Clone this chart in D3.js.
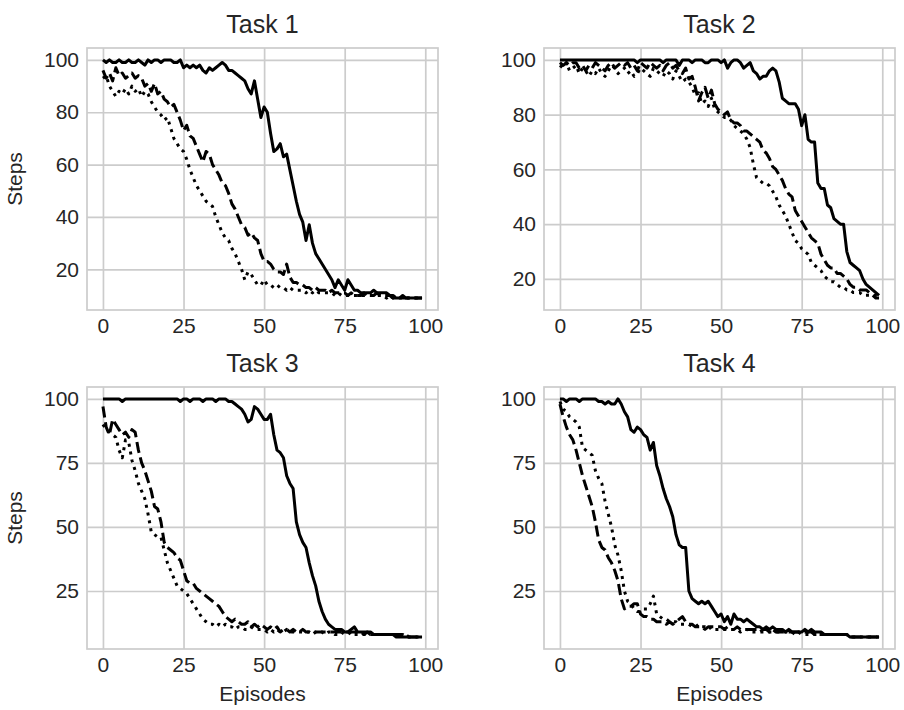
<!DOCTYPE html>
<html>
<head>
<meta charset="utf-8">
<script src="https://cdn.jsdelivr.net/npm/d3@7"></script>
<style>
  body { margin: 0; background: #fff; }
  svg text { font-family: "Liberation Sans", Arial, sans-serif; fill: #262626; }
</style>
</head>
<body>
<div id="graph"></div>
<script>
var episodes = d3.range(100);
var titles = ["Task 1", "Task 2", "Task 3", "Task 4"];
var xTicks = [0, 25, 50, 75, 100];
var yTicksTop = [20, 40, 60, 80, 100];
var yTicksBottom = [25, 50, 75, 100];

// Task 1
var task1Solid = [100,99,100,99,99,100,99,99,100,99, 99,100,99,98,100,99,100,100,99,100,
  100,100,99,99,100,97,98,97,98,97, 98,96,95,97,96,97,98,99,98,96,
  96,95,94,93,92,89,87,92,85,78, 82,80,72,65,66,68,63,64,58,52,
  46,41,38,31,37,30,26,24,22,20, 18,16,13,16,14,12,16,14,12,12,
  11,11,11,11,12,11,11,11,11,10, 9,9,9,9,9,9,9,9,9,9];
var task1Dashed = [96,93,95,92,97,94,95,93,94,95, 93,94,93,90,91,88,91,87,88,85,
  84,82,83,80,77,73,75,71,70,67, 64,61,65,64,60,58,56,53,52,49,
  45,43,40,37,36,33,34,32,31,26, 23,23,22,20,19,19,18,22,17,15,
  15,14,14,13,13,12,13,12,12,12, 11,12,11,11,11,11,10,11,10,10,
  10,11,10,10,10,11,10,10,10,10, 10,9,9,10,9,9,9,9,9,9];
var task1Dotted = [93,94,90,88,86,88,87,89,87,90, 88,89,86,88,87,84,82,80,79,77,
  78,74,70,68,66,65,62,58,55,52, 50,48,46,45,44,40,37,34,32,31,
  28,26,23,20,16,19,18,16,14,14, 16,14,14,13,14,13,13,12,13,12,
  12,12,12,11,12,11,12,11,11,11, 11,11,10,11,10,10,10,10,10,10,
  10,10,10,10,10,10,10,10,9,10, 9,9,9,9,9,9,9,9,9,9];

// Task 2
var task2Solid = [100,100,100,100,100,100,100,100,100,100, 100,100,100,100,100,100,100,100,100,100,
  100,100,100,100,99,100,100,100,100,100, 100,100,99,100,100,100,100,98,100,100,
  100,99,100,100,100,99,99,100,100,100, 99,100,97,99,100,100,99,97,98,99,
  96,95,93,94,94,96,97,96,92,86, 85,84,84,84,82,76,80,71,70,70,
  55,53,53,47,46,42,41,40,40,30, 26,25,24,23,20,18,17,16,15,14];
var task2Dashed = [99,98,99,98,99,99,97,98,96,98, 97,99,98,97,96,98,99,97,98,99,
  98,99,97,98,96,99,98,97,99,98, 97,98,96,98,99,97,98,96,95,97,
  93,94,90,85,88,90,86,89,84,82, 81,80,81,78,77,77,76,74,74,73,
  72,71,70,67,66,64,61,60,58,56, 53,51,50,45,43,41,39,37,35,34,
  33,29,27,25,24,24,22,22,21,20, 18,17,17,16,16,16,15,14,13,13];
var task2Dotted = [98,97,99,96,97,98,95,97,96,94, 96,95,97,95,94,96,98,97,95,96,
  97,95,96,94,95,97,96,95,94,97, 96,95,94,96,95,93,96,94,92,93,
  92,90,87,88,84,85,83,86,82,81, 80,79,79,78,76,75,74,73,71,68,
  62,57,56,55,55,54,52,50,47,45, 43,40,37,34,33,31,30,29,26,25,
  24,23,21,20,19,19,18,17,17,16, 16,15,15,15,14,14,14,14,14,14];

// Task 3
var task3Solid = [100,100,100,100,100,100,99,100,100,100, 100,100,100,100,100,100,100,100,100,100,
  100,100,100,100,99,100,100,99,100,100, 100,99,100,100,100,99,100,100,100,99,
  99,98,97,96,94,91,92,97,96,94, 92,92,94,86,80,79,77,70,67,65,
  52,47,44,42,36,31,27,21,17,14, 12,11,10,10,10,9,9,10,11,9,
  9,9,9,9,8,8,8,8,8,8, 8,7,7,7,7,7,7,7,7,7];
var task3Dashed = [97,89,86,92,90,88,86,87,85,88, 87,80,75,72,68,64,58,57,52,44,
  42,41,40,38,37,33,29,28,28,26, 25,24,23,22,21,20,19,17,15,14,
  13,14,13,12,12,13,11,12,11,12, 11,10,11,10,11,9,10,10,9,10,
  9,9,10,9,9,9,9,9,9,9, 9,9,9,9,9,9,9,9,9,9,
  9,8,9,8,8,8,8,8,8,8, 8,8,8,8,8,7,7,7,7,7];
var task3Dotted = [90,88,87,86,85,80,77,84,83,76, 72,67,64,61,55,48,47,46,46,41,
  36,33,30,27,26,25,24,22,20,18, 16,14,13,12,12,11,12,11,12,11,
  11,10,11,11,10,10,11,10,10,10, 10,9,10,9,10,9,9,10,9,9,
  9,9,9,9,9,8,9,9,9,8, 9,9,8,8,9,8,8,9,8,8,
  8,8,8,8,8,8,8,8,8,8, 8,8,7,8,7,7,7,7,7,7];

// Task 4
var task4Solid = [100,100,99,100,100,100,99,100,100,100, 100,100,99,99,98,99,98,98,100,98,
  95,93,88,87,89,88,86,85,80,83, 74,70,65,61,58,54,47,43,42,42,
  25,22,21,20,21,20,21,19,17,15, 16,13,15,12,16,14,14,13,14,13,
  12,11,11,10,11,10,11,10,10,10, 9,10,9,9,9,9,10,9,10,9,
  9,9,8,8,8,8,8,8,8,8, 7,7,7,7,7,7,7,7,7,7];
var task4Dashed = [98,93,89,86,84,80,75,70,66,62, 58,52,45,42,41,38,36,33,29,22,
  18,19,19,20,20,16,15,15,14,14, 13,13,13,12,13,12,13,14,15,13,
  12,12,11,11,11,10,11,11,11,11, 11,10,11,10,10,11,10,10,10,10,
  10,10,9,10,10,9,10,9,9,9, 9,9,9,9,9,9,9,9,9,8,
  8,8,8,8,8,8,8,8,8,8, 7,7,7,7,7,7,7,7,7,7];
var task4Dotted = [99,96,95,93,92,91,89,81,80,79, 78,72,69,67,60,55,50,43,39,33,
  25,21,20,18,17,17,18,18,20,23, 16,15,14,14,13,13,13,12,12,12,
  12,11,11,12,11,11,10,11,10,10, 10,10,10,10,10,10,9,10,10,9,
  9,9,9,9,9,9,9,9,9,9, 9,9,9,8,9,8,8,8,8,8,
  8,8,8,8,8,8,8,8,8,8, 7,7,7,7,7,7,7,7,7,7];

var W = 904, H = 710;
var pw = 351, ph = 262;
var gridColor = "#cccccc";

var panels = [
  { title: titles[0], series: [task1Solid, task1Dashed, task1Dotted], yTicks: yTicksTop, left: 87, top: 48, ylab: true, xlab: false },
  { title: titles[1], series: [task2Solid, task2Dashed, task2Dotted], yTicks: yTicksTop, left: 544, top: 48, ylab: false, xlab: false },
  { title: titles[2], series: [task3Solid, task3Dashed, task3Dotted], yTicks: yTicksBottom, left: 87, top: 387, ylab: true, xlab: true },
  { title: titles[3], series: [task4Solid, task4Dashed, task4Dotted], yTicks: yTicksBottom, left: 544, top: 387, ylab: false, xlab: true }
];
var dashes = [null, "11.1,4.8", "3,4.95"];

var svg = d3.select("#graph").append("svg")
  .attr("width", W).attr("height", H);

panels.forEach(function(p) {
  var g = svg.append("g").attr("transform", "translate(" + p.left + "," + p.top + ")");

  var x = d3.scaleLinear().domain([-4.95, 103.95]).range([0, pw]);
  var all = d3.merge(p.series);
  var lo = d3.min(all), hi = d3.max(all), m = (hi - lo) * 0.05;
  var y = d3.scaleLinear().domain([lo - m, hi + m]).range([ph, 0]);

  var xa = g.append("g").attr("transform", "translate(0," + ph + ")")
    .call(d3.axisBottom(x).tickValues(xTicks).tickSize(-ph).tickPadding(8).tickFormat(d3.format("d")));
  var ya = g.append("g")
    .call(d3.axisLeft(y).tickValues(p.yTicks).tickSize(-pw).tickPadding(8).tickFormat(d3.format("d")));

  [xa, ya].forEach(function(a) {
    a.select(".domain").remove();
    a.selectAll(".tick line").attr("stroke", gridColor).attr("stroke-width", 1.7);
    a.selectAll(".tick text").attr("fill", "#262626").style("font-size", "21px");
  });

  var line = d3.line()
    .x(function(d, i) { return x(episodes[i]); })
    .y(function(d) { return y(d); });

  p.series.forEach(function(s, k) {
    g.append("path")
      .datum(s)
      .attr("d", line)
      .attr("fill", "none")
      .attr("stroke", "#000")
      .attr("stroke-width", 3)
      .attr("stroke-linejoin", "round")
      .attr("stroke-dasharray", dashes[k]);
  });

  g.append("rect")
    .attr("width", pw).attr("height", ph)
    .attr("fill", "none").attr("stroke", gridColor).attr("stroke-width", 1.7);

  g.append("text")
    .attr("x", pw / 2).attr("y", -15)
    .attr("text-anchor", "middle")
    .style("font-size", "25px")
    .text(p.title);

  if (p.ylab) {
    g.append("text")
      .attr("transform", "translate(" + (-65) + "," + (ph / 2) + ") rotate(-90)")
      .attr("text-anchor", "middle")
      .style("font-size", "21px")
      .text("Steps");
  }
  if (p.xlab) {
    g.append("text")
      .attr("x", pw / 2).attr("y", ph + 52)
      .attr("text-anchor", "middle")
      .style("font-size", "21px")
      .text("Episodes");
  }
});
</script>
</body>
</html>
